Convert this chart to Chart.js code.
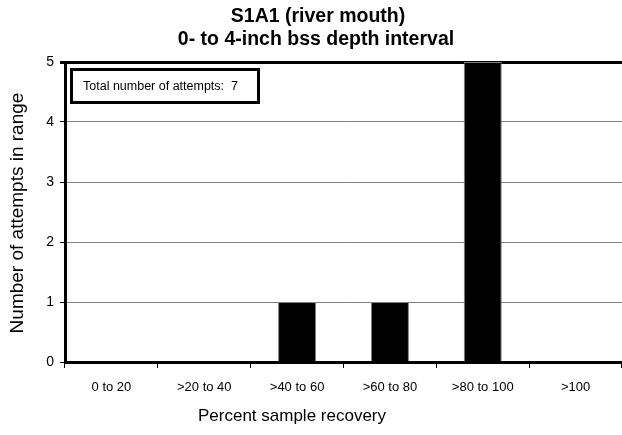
<!DOCTYPE html>
<html>
<head>
<meta charset="utf-8">
<script src="https://cdn.jsdelivr.net/npm/chart.js@4.4.1/dist/chart.umd.min.js"></script>
<style>
  html, body { margin: 0; padding: 0; background: #fff; overflow: hidden; }
  #wrap { width: 622px; height: 435px; }
</style>
</head>
<body>
<div id="wrap"><canvas id="chart" width="622" height="435"></canvas></div>
<script>
// Recovery bins and number of attempts that fell in each one
const recoveryBins = ['0 to 20', '>20 to 40', '>40 to 60', '>60 to 80', '>80 to 100', '>100'];
const attemptCounts = [0, 0, 1, 1, 5, 0];
const yTicks = [0, 1, 2, 3, 4, 5];

const titleLines = ['S1A1 (river mouth)', '0- to 4-inch bss depth interval'];
const xTitle = 'Percent sample recovery';
const yTitle = 'Number of attempts in range';
const totalNote = 'Total number of attempts:  7';

const FONT = '"Liberation Sans", Arial, sans-serif';

// draws the titles and the little "total" box, Excel style
const annotations = {
    id: 'annotations',
    afterDraw(chart) {
        const ctx = chart.ctx;
        const area = chart.chartArea;
        ctx.save();
        ctx.fillStyle = '#000';
        ctx.textAlign = 'center';
        ctx.textBaseline = 'middle';
        ctx.font = 'bold 19.5px ' + FONT;
        ctx.fillText(titleLines[0], 318, 17);
        ctx.fillText(titleLines[1], 316, 40);

        ctx.font = '17px ' + FONT;
        ctx.fillText(xTitle, 292, 416);

        ctx.save();
        ctx.translate(18, 213);
        ctx.rotate(-Math.PI / 2);
        ctx.font = '19px ' + FONT;
        ctx.fillText(yTitle, 0, 0);
        ctx.restore();

        // total attempts box
        ctx.lineWidth = 3;
        ctx.strokeStyle = '#000';
        ctx.strokeRect(area.left + 6.5, area.top + 7.5, 187, 33);
        ctx.textAlign = 'left';
        ctx.font = '12.5px ' + FONT;
        ctx.fillText(totalNote, area.left + 18, area.top + 25);
        ctx.restore();
    }
};

new Chart(document.getElementById('chart'), {
    type: 'bar',
    data: {
        labels: recoveryBins,
        datasets: [{
            data: attemptCounts,
            backgroundColor: '#000',
            borderColor: '#808080',
            borderWidth: 1,
            categoryPercentage: 1.0,
            barPercentage: 0.41
        }]
    },
    options: {
        responsive: false,
        animation: false,
        layout: { padding: { top: 62, right: 0, left: 0, bottom: 0 } },
        plugins: {
            legend: { display: false },
            title: { display: false },
            tooltip: { enabled: false }
        },
        scales: {
            x: {
                afterFit(scale) { scale.height = 73; },
                grid: {
                    offset: true,
                    drawOnChartArea: false,
                    drawTicks: true,
                    tickLength: 6,
                    tickColor: '#000',
                    tickWidth: 1
                },
                border: { display: true, color: '#000', width: 3 },
                ticks: {
                    color: '#000',
                    padding: 12,
                    maxRotation: 0,
                    font: { family: FONT, size: 13 }
                }
            },
            y: {
                min: 0,
                max: 5,
                afterFit(scale) { scale.width = 65; },
                afterBuildTicks(scale) { scale.ticks = yTicks.map(v => ({ value: v })); },
                grid: {
                    color: ctx => ctx.tick && ctx.tick.value === 5 ? '#000' : '#808080',
                    lineWidth: ctx => ctx.tick && ctx.tick.value === 5 ? 3 : 1,
                    drawTicks: true,
                    tickLength: 5,
                    tickColor: '#000'
                },
                border: { display: true, color: '#000', width: 3 },
                ticks: {
                    color: '#000',
                    padding: 6,
                    font: { family: FONT, size: 14 }
                }
            }
        }
    },
    plugins: [annotations]
});
</script>
</body>
</html>
